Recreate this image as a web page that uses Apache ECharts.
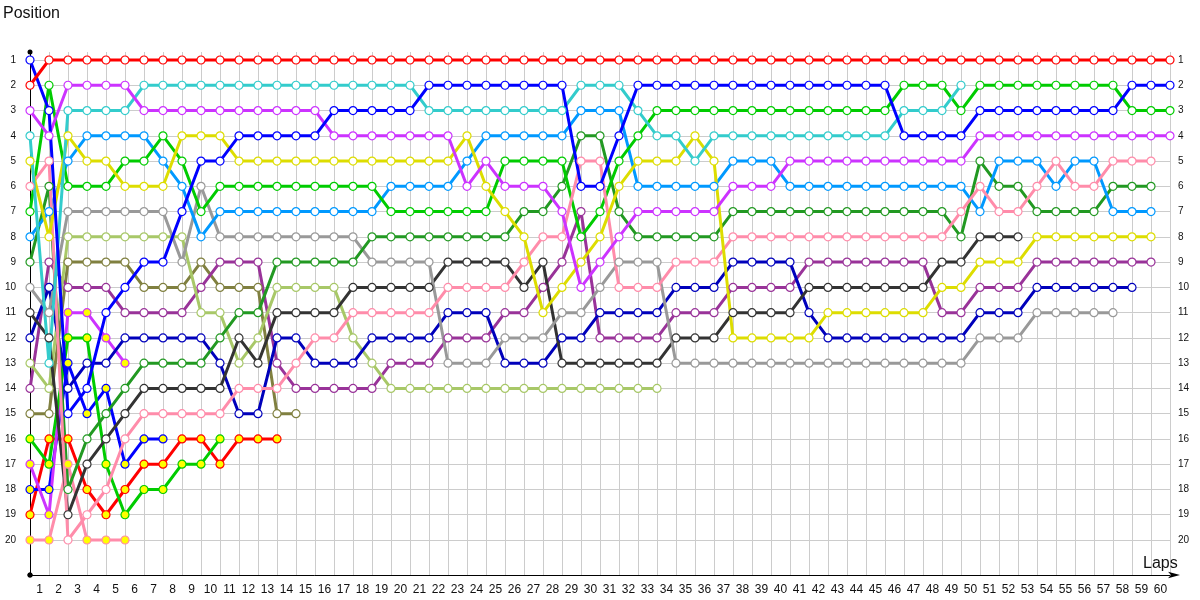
<!DOCTYPE html>
<html>
<head>
<meta charset="utf-8">
<script src="https://cdn.jsdelivr.net/npm/echarts@6/dist/echarts.min.js"></script>
<style>html,body{margin:0;padding:0;background:#fff;}#c{width:1200px;height:600px;}</style>
</head>
<body>
<div id="c"></div>
<script>
// Tick labels
const lapLabels = ['1','2','3','4','5','6','7','8','9','10','11','12','13','14','15','16','17','18','19','20',
  '21','22','23','24','25','26','27','28','29','30','31','32','33','34','35','36','37','38','39','40',
  '41','42','43','44','45','46','47','48','49','50','51','52','53','54','55','56','57','58','59','60'];
const positionTicks = [1,2,3,4,5,6,7,8,9,10,11,12,13,14,15,16,17,18,19,20];

// Positions per lap (index = lap number, lap 0 = grid)
const redPos = [2,1,1,1,1,1,1,1,1,1, 1,1,1,1,1,1,1,1,1,1, 1,1,1,1,1,1,1,1,1,1, 1,1,1,1,1,1,1,1,1,1, 1,1,1,1,1,1,1,1,1,1, 1,1,1,1,1,1,1,1,1,1, 1];
const bluePos = [1,3,15,14,11,10,9,9,7,5, 5,4,4,4,4,4,3,3,3,3, 3,2,2,2,2,2,2,2,2,6, 6,4,2,2,2,2,2,2,2,2, 2,2,2,2,2,2,4,4,4,4, 3,3,3,3,3,3,3,3,2,2, 2];
const violetPos = [3,4,2,2,2,2,3,3,3,3, 3,3,3,3,3,3,4,4,4,4, 4,4,4,6,5,6,6,6,7,10, 9,8,7,7,7,7,7,6,6,6, 5,5,5,5,5,5,5,5,5,5, 4,4,4,4,4,4,4,4,4,4, 4];
const cyanPos = [4,13,3,3,3,3,2,2,2,2, 2,2,2,2,2,2,2,2,2,2, 2,3,3,3,3,3,3,3,3,2, 2,2,3,4,4,5,4,4,4,4, 4,4,4,4,4,4,3,3,3,2];
const yellowPos = [5,8,4,5,5,6,6,6,4,4, 4,5,5,5,5,5,5,5,5,5, 5,5,5,4,6,7,8,11,10,9, 8,6,5,5,5,4,5,12,12,12, 12,12,11,11,11,11,11,11,10,10, 9,9,9,8,8,8,8,8,8,8];
const pinkPos = [6,5,20,19,18,16,15,15,15,15, 15,14,14,14,13,12,12,11,11,11, 11,11,10,10,10,10,9,8,8,5, 5,10,10,10,9,9,9,8,8,8, 8,8,8,8,8,8,8,8,8,7, 6,7,7,6,5,6,6,5,5,5];
const greenPos = [7,2,6,6,6,5,5,4,5,7, 6,6,6,6,6,6,6,6,6,7, 7,7,7,7,7,5,5,5,5,8, 7,5,4,3,3,3,3,3,3,3, 3,3,3,3,3,3,2,2,2,3, 2,2,2,2,2,2,2,2,3,3, 3];
const lightBluePos = [8,7,5,4,4,4,4,5,6,8, 7,7,7,7,7,7,7,7,7,6, 6,6,6,5,4,4,4,4,4,3, 3,3,6,6,6,6,6,5,5,5, 6,6,6,6,6,6,6,6,6,6, 7,5,5,5,6,5,5,7,7,7];
const darkGreenPos = [9,6,18,16,15,14,13,13,13,13, 12,11,11,9,9,9,9,9,8,8, 8,8,8,8,8,8,7,7,6,4, 4,7,8,8,8,8,8,7,7,7, 7,7,7,7,7,7,7,7,7,8, 5,6,6,7,7,7,7,6,6,6];
const grayPos = [10,11,7,7,7,7,7,7,9,6, 8,8,8,8,8,8,8,8,9,9, 9,9,13,13,13,12,12,12,11,11, 10,9,9,9,13,13,13,13,13,13, 13,13,13,13,13,13,13,13,13,13, 12,12,12,11,11,11,11,11];
const blackPos = [11,12,19,17,16,15,14,14,14,14, 14,12,13,11,11,11,11,10,10,10, 10,10,9,9,9,9,10,9,13,13, 13,13,13,13,12,12,12,11,11,11, 11,10,10,10,10,10,10,10,9,9, 8,8,8];
const navyPos = [12,10,14,13,13,12,12,12,12,12, 13,15,15,12,12,13,13,13,12,12, 12,12,11,11,11,13,13,13,12,12, 11,11,11,11,10,10,10,9,9,9, 9,11,12,12,12,12,12,12,12,12, 11,11,11,10,10,10,10,10,10];
const lightOlivePos = [13,14,8,8,8,8,8,8,8,11, 11,13,12,10,10,10,10,12,13,14, 14,14,14,14,14,14,14,14,14,14, 14,14,14,14];
const darkPurplePos = [14,9,10,10,10,11,11,11,11,10, 9,9,9,13,14,14,14,14,14,13, 13,13,12,12,12,11,11,10,9,7, 12,12,12,12,11,11,11,10,10,10, 10,9,9,9,9,9,9,9,11,11, 10,10,10,9,9,9,9,9,9,9];
const olivePos = [15,15,9,9,9,9,10,10,10,9, 10,10,10,15,15];
const greenYPos = [16,17,12,12,17,19,18,18,17,17,16];
const violetYPos = [17,19,11,11,12,13];
const blueYPos = [18,18,13,15,14,17,16,16];
const redYPos = [19,16,16,18,19,18,17,17,16,16,17,16,16,16];
const pinkYPos = [20,20,17,20,20,20];

const drivers = [
  {pos: pinkYPos, color: '#ff8caa', fill: '#ffff00'},
  {pos: redYPos, color: '#ff0000', fill: '#ffff00'},
  {pos: blueYPos, color: '#0000ff', fill: '#ffff00'},
  {pos: violetYPos, color: '#cc33ff', fill: '#ffff00'},
  {pos: greenYPos, color: '#00cc00', fill: '#ffff00'},
  {pos: olivePos, color: '#808040', fill: '#ffffff'},
  {pos: darkPurplePos, color: '#993399', fill: '#ffffff'},
  {pos: lightOlivePos, color: '#a8c868', fill: '#ffffff'},
  {pos: navyPos, color: '#0000bb', fill: '#ffffff'},
  {pos: blackPos, color: '#333333', fill: '#ffffff'},
  {pos: grayPos, color: '#999999', fill: '#ffffff'},
  {pos: darkGreenPos, color: '#229922', fill: '#ffffff'},
  {pos: lightBluePos, color: '#0099ff', fill: '#ffffff'},
  {pos: greenPos, color: '#00cc00', fill: '#ffffff'},
  {pos: pinkPos, color: '#ff8caa', fill: '#ffffff'},
  {pos: yellowPos, color: '#dddd00', fill: '#ffffff'},
  {pos: cyanPos, color: '#33cccc', fill: '#ffffff'},
  {pos: violetPos, color: '#cc33ff', fill: '#ffffff'},
  {pos: bluePos, color: '#0000ff', fill: '#ffffff'},
  {pos: redPos, color: '#ff0000', fill: '#ffffff'}
];

const series = drivers.map(d => ({
  type: 'line',
  data: d.pos.map((p, lap) => [lap, p]),
  symbol: 'circle',
  symbolSize: 8,
  showAllSymbol: true,
  lineStyle: {color: d.color, width: 3},
  itemStyle: {color: d.fill, borderColor: d.color, borderWidth: 1.2},
  emphasis: {disabled: true},
  animation: false
}));

const yMin = 0.683, yMax = 21.385;
const chart = echarts.init(document.getElementById('c'), null, {renderer: 'canvas'});
chart.setOption({
  animation: false,
  backgroundColor: '#ffffff',
  title: [
    {text: 'Position', left: 3, top: 6, padding: 0, textStyle: {fontFamily: 'Liberation Sans', fontSize: 16, fontWeight: 'normal', color: '#111'}},
    {text: 'Laps', left: 1143, top: 556, padding: 0, textStyle: {fontFamily: 'Liberation Sans', fontSize: 16, fontWeight: 'normal', color: '#111'}}
  ],
  grid: {left: 30, right: 30, top: 52, bottom: 25, containLabel: false},
  xAxis: {
    type: 'value', min: 0, max: 60, interval: 1,
    axisLine: {show: true, onZero: false, lineStyle: {color: '#000', width: 1}, symbol: ['circle', 'arrow'], symbolSize: [5, 12], symbolOffset: [0, 10]},
    axisTick: {show: false},
    axisLabel: {
      customValues: lapLabels.map((s, i) => i + 0.5),
      formatter: v => lapLabels[Math.round(v - 0.5)],
      fontFamily: 'Liberation Sans', fontSize: 12, color: '#111', margin: 9
    },
    splitLine: {show: true, lineStyle: {color: '#cccccc', width: 1}}
  },
  yAxis: [
    {
      type: 'value', inverse: true, min: yMin, max: yMax,
      axisLine: {show: true, onZero: false, lineStyle: {color: '#000', width: 1}, symbol: ['circle', 'circle'], symbolSize: [5, 5]},
      axisTick: {show: false, customValues: positionTicks},
      axisLabel: {customValues: positionTicks, fontFamily: 'Liberation Sans', fontSize: 10, color: '#111', margin: 14, align: 'right'},
      splitLine: {show: true, lineStyle: {color: '#cccccc', width: 1}}
    },
    {
      type: 'value', inverse: true, min: yMin, max: yMax, position: 'right',
      axisLine: {show: false, onZero: false},
      axisTick: {show: false, customValues: positionTicks},
      axisLabel: {customValues: positionTicks, fontFamily: 'Liberation Sans', fontSize: 10, color: '#111', margin: 8, align: 'left'},
      splitLine: {show: false}
    }
  ],
  series: series
});
</script>
</body>
</html>
